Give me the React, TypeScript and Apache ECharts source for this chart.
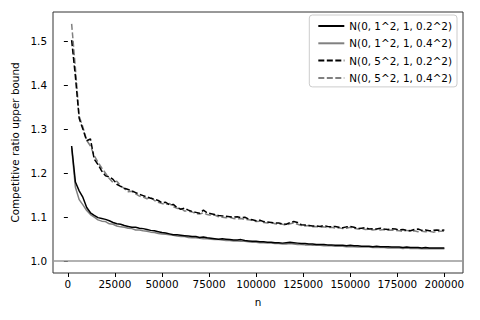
import React, { useEffect, useRef } from "react";
import * as echarts from "echarts";

const N_START = 2000;
const N_STEP = 2000;

const SERIES_NAMES = [
  "N(0, 1^2, 1, 0.2^2)",
  "N(0, 1^2, 1, 0.4^2)",
  "N(0, 5^2, 1, 0.2^2)",
  "N(0, 5^2, 1, 0.4^2)",
];

const S1_VALUES = [
  1.262, 1.180, 1.160, 1.145, 1.122, 1.110, 1.104, 1.099, 1.097, 1.095,
  1.092, 1.088, 1.085, 1.084, 1.081, 1.079, 1.077, 1.077, 1.075, 1.074,
  1.072, 1.070, 1.069, 1.067, 1.065, 1.064, 1.062, 1.060, 1.060, 1.059,
  1.058, 1.057, 1.056, 1.056, 1.054, 1.055, 1.053, 1.052, 1.051, 1.050,
  1.051, 1.050, 1.049, 1.048, 1.048, 1.049, 1.047, 1.046, 1.045, 1.045,
  1.044, 1.044, 1.043, 1.043, 1.042, 1.042, 1.041, 1.042, 1.043, 1.042,
  1.041, 1.040, 1.040, 1.039, 1.039, 1.038, 1.038, 1.038, 1.037, 1.037,
  1.036, 1.036, 1.036, 1.035, 1.036, 1.035, 1.035, 1.034, 1.034, 1.034,
  1.033, 1.034, 1.033, 1.033, 1.033, 1.032, 1.032, 1.032, 1.031, 1.032,
  1.031, 1.031, 1.031, 1.030, 1.031, 1.030, 1.030, 1.030, 1.030, 1.030,
];

const S2_VALUES = [
  1.258, 1.168, 1.140, 1.128, 1.115, 1.106, 1.100, 1.094, 1.091, 1.090,
  1.085, 1.084, 1.080, 1.078, 1.077, 1.075, 1.074, 1.071, 1.071, 1.069,
  1.068, 1.066, 1.065, 1.063, 1.062, 1.061, 1.060, 1.059, 1.057, 1.056,
  1.056, 1.054, 1.053, 1.053, 1.052, 1.051, 1.051, 1.050, 1.049, 1.049,
  1.048, 1.047, 1.047, 1.046, 1.046, 1.045, 1.045, 1.044, 1.043, 1.043,
  1.042, 1.042, 1.041, 1.041, 1.040, 1.040, 1.039, 1.039, 1.040, 1.039,
  1.038, 1.038, 1.037, 1.037, 1.036, 1.036, 1.036, 1.035, 1.035, 1.035,
  1.034, 1.034, 1.034, 1.033, 1.033, 1.033, 1.032, 1.032, 1.032, 1.032,
  1.031, 1.031, 1.031, 1.031, 1.030, 1.030, 1.030, 1.030, 1.029, 1.030,
  1.029, 1.029, 1.029, 1.028, 1.029, 1.028, 1.028, 1.028, 1.028, 1.028,
];

const D1_VALUES = [
  1.503, 1.420, 1.325, 1.300, 1.274, 1.278, 1.232, 1.220, 1.205, 1.194,
  1.192, 1.186, 1.175, 1.170, 1.166, 1.163, 1.160, 1.156, 1.152, 1.149,
  1.146, 1.143, 1.141, 1.138, 1.133, 1.134, 1.128, 1.129, 1.122, 1.118,
  1.121, 1.116, 1.113, 1.111, 1.109, 1.116, 1.110, 1.108, 1.106, 1.104,
  1.103, 1.102, 1.101, 1.100, 1.101, 1.099, 1.100, 1.096, 1.094, 1.092,
  1.093, 1.090, 1.089, 1.088, 1.087, 1.087, 1.085, 1.084, 1.088, 1.090,
  1.088, 1.083, 1.082, 1.081, 1.080, 1.080, 1.079, 1.081, 1.079, 1.078,
  1.079, 1.077, 1.076, 1.078, 1.079, 1.077, 1.074, 1.075, 1.076, 1.073,
  1.074, 1.073, 1.075, 1.073, 1.072, 1.074, 1.073, 1.071, 1.072, 1.070,
  1.069, 1.072, 1.073, 1.070, 1.071, 1.069, 1.070, 1.071, 1.070, 1.071,
];

const D2_VALUES = [
  1.540, 1.440, 1.330, 1.305, 1.275, 1.262, 1.240, 1.225, 1.212, 1.200,
  1.188, 1.179, 1.182, 1.172, 1.165, 1.158, 1.159, 1.153, 1.148, 1.146,
  1.142, 1.145, 1.138, 1.134, 1.131, 1.129, 1.131, 1.124, 1.120, 1.121,
  1.114, 1.114, 1.112, 1.108, 1.107, 1.110, 1.106, 1.104, 1.105, 1.101,
  1.100, 1.099, 1.100, 1.097, 1.096, 1.097, 1.095, 1.094, 1.093, 1.090,
  1.091, 1.088, 1.087, 1.088, 1.085, 1.084, 1.084, 1.082, 1.085, 1.087,
  1.084, 1.081, 1.080, 1.081, 1.078, 1.079, 1.077, 1.078, 1.076, 1.077,
  1.075, 1.076, 1.074, 1.075, 1.077, 1.075, 1.073, 1.074, 1.072, 1.073,
  1.071, 1.072, 1.071, 1.072, 1.070, 1.071, 1.070, 1.069, 1.068, 1.070,
  1.068, 1.069, 1.067, 1.068, 1.067, 1.068, 1.066, 1.067, 1.068, 1.068,
];

const X_TICKS = [0, 25000, 50000, 75000, 100000, 125000, 150000, 175000, 200000];
const Y_TICKS = [1.0, 1.1, 1.2, 1.3, 1.4, 1.5];
const BASELINE = 1.0;

const FONT = "DejaVu Sans";
const FS = 10.4;

function pairs(values: number[]) {
  return values.map((v, i) => [N_START + i * N_STEP, v]);
}

export default function App() {
  const ref = useRef<HTMLDivElement>(null);
  useEffect(() => {
    if (!ref.current) return;
    const chart = echarts.init(ref.current, undefined, { renderer: "svg" });
    const dash = [6, 2.5];
    const lineW = 1.5;
    chart.setOption({
      animation: false,
      backgroundColor: "#fff",
      grid: {
        left: 53,
        right: 17,
        top: 12,
        bottom: 47,
        show: true,
        borderColor: "#333",
        borderWidth: 1,
        backgroundColor: "transparent",
      },
      legend: {
        show: true,
        orient: "vertical",
        right: 23,
        top: 15,
        itemWidth: 26,
        itemHeight: 12,
        itemGap: 5.3,
        padding: [5, 5, 3, 8],
        backgroundColor: "rgba(255,255,255,0.8)",
        borderColor: "#ccc",
        borderWidth: 1,
        borderRadius: 3,
        itemStyle: { opacity: 0 },
        textStyle: { fontFamily: FONT, fontSize: FS, lineHeight: 12, color: "#000" },
        data: SERIES_NAMES,
      },
      xAxis: {
        type: "value",
        min: -7900,
        max: 209900,
        name: "n",
        nameLocation: "middle",
        nameGap: 24,
        nameTextStyle: { fontFamily: FONT, fontSize: FS, color: "#000" },
        axisLine: { show: false },
        axisTick: {
          show: true,
          inside: false,
          length: 4,
          lineStyle: { color: "#000", width: 1 },
          customValues: X_TICKS,
        },
        axisLabel: {
          fontFamily: FONT,
          fontSize: FS,
          color: "#000",
          margin: 6,
          customValues: X_TICKS,
          formatter: (v: number) => String(v),
        },
        splitLine: { show: false },
      },
      yAxis: {
        type: "value",
        min: 0.973,
        max: 1.567,
        name: "Competitive ratio upper bound",
        nameLocation: "middle",
        nameGap: 33,
        nameTextStyle: { fontFamily: FONT, fontSize: FS, color: "#000" },
        axisLine: { show: false },
        axisTick: {
          show: true,
          inside: false,
          length: 4,
          lineStyle: { color: "#000", width: 1 },
          customValues: Y_TICKS,
        },
        axisLabel: {
          fontFamily: FONT,
          fontSize: FS,
          color: "#000",
          margin: 6,
          customValues: Y_TICKS,
          formatter: (v: number) => v.toFixed(1),
        },
        splitLine: { show: false },
      },
      series: [
        {
          name: SERIES_NAMES[0],
          type: "line",
          data: pairs(S1_VALUES),
          symbol: "none",
          showSymbol: false,
          lineStyle: { color: "#000", width: lineW, type: "solid" },
          itemStyle: { color: "#000" },
          z: 4,
          markLine: {
            silent: true,
            symbol: "none",
            label: { show: false },
            lineStyle: { color: "#999", width: 1.5, type: "solid" },
            data: [{ yAxis: BASELINE }],
          },
        },
        {
          name: SERIES_NAMES[1],
          type: "line",
          data: pairs(S2_VALUES),
          symbol: "none",
          showSymbol: false,
          lineStyle: { color: "#808080", width: lineW, type: "solid" },
          itemStyle: { color: "#808080" },
          z: 3,
        },
        {
          name: SERIES_NAMES[2],
          type: "line",
          data: pairs(D1_VALUES),
          symbol: "none",
          showSymbol: false,
          lineStyle: { color: "#000", width: lineW, type: dash },
          itemStyle: { color: "#000" },
          z: 4,
        },
        {
          name: SERIES_NAMES[3],
          type: "line",
          data: pairs(D2_VALUES),
          symbol: "none",
          showSymbol: false,
          lineStyle: { color: "#808080", width: lineW, type: dash },
          itemStyle: { color: "#808080" },
          z: 3,
        },
      ],
    });
    return () => chart.dispose();
  }, []);
  return <div ref={ref} style={{ width: 480, height: 320, margin: -8 }} />;
}
